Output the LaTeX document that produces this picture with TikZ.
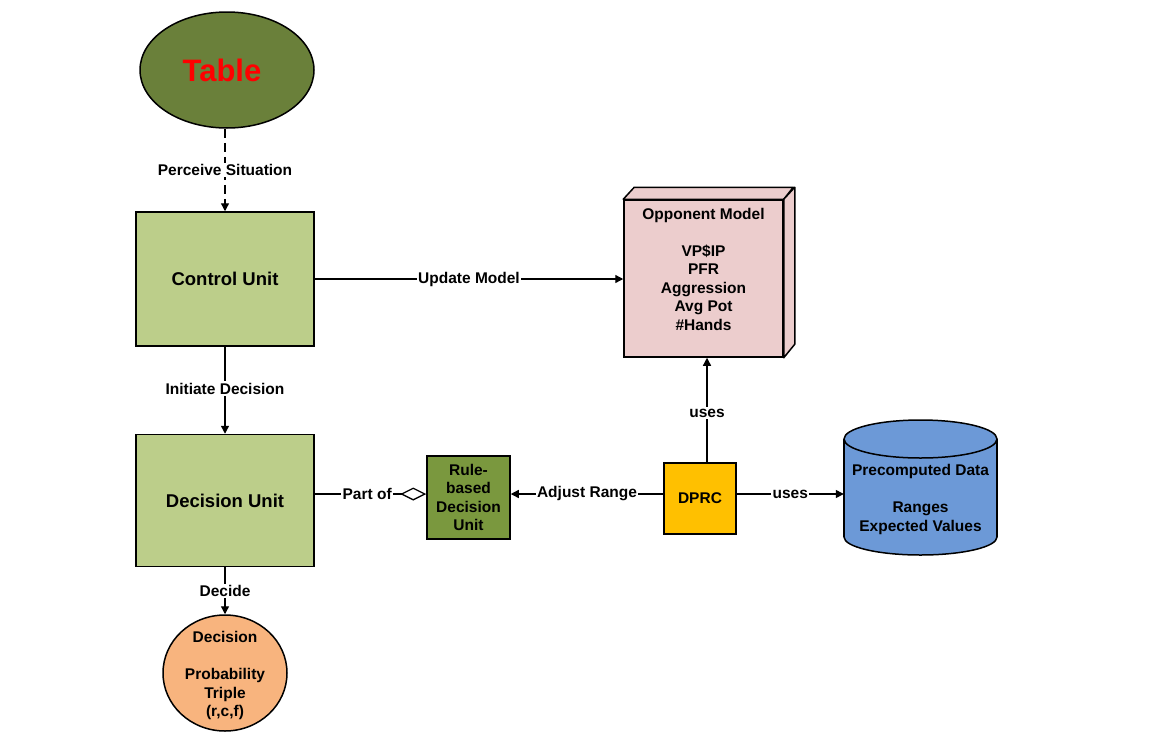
\documentclass[tikz,border=0pt]{standalone}
\usepackage{fontspec}
\setmainfont{Liberation Sans}
\usetikzlibrary{arrows.meta,shapes.geometric}
\definecolor{tablec}{RGB}{106,128,58}
\definecolor{unitc}{RGB}{188,206,138}
\definecolor{rulec}{RGB}{122,152,62}
\definecolor{oppc}{RGB}{236,205,205}
\definecolor{dprcc}{RGB}{255,192,0}
\definecolor{cylc}{RGB}{108,153,215}
\definecolor{decc}{RGB}{248,180,126}
\newcommand{\lblfont}{\fontsize{15.5}{18.5}\selectfont\bfseries}
\newcommand{\bigfont}{\fontsize{18.5}{22}\selectfont\bfseries}
\begin{document}
\begin{tikzpicture}[x=1pt,y=-1pt,
  shapebox/.style={draw=black, line width=1.5pt, inner sep=2pt, align=center},
  unitbox/.style={shapebox, fill=unitc, minimum width=178pt, font=\bigfont},
  lab/.style={fill=white, inner sep=1.5pt, font=\lblfont},
  txt/.style={align=center, inner sep=0pt, font=\lblfont},
  arr/.style={line width=1.3pt, -{Triangle[length=8pt,width=8pt]}}
]
\useasboundingbox (0,0) rectangle (1165,734);

% Table
\node[ellipse, draw=black, line width=1.5pt, fill=tablec, minimum width=174pt, minimum height=116pt, inner sep=0pt] (table) at (227,70) {};
\node[inner sep=0pt, text=red, font=\fontsize{31}{36}\selectfont\bfseries] (tablet) at (222,70) {Table};

% Units
\node[unitbox, minimum height=134pt] (control) at (225,279) {Control Unit};
\node[unitbox, minimum height=132pt] (decision) at (225,500.5) {Decision Unit};

% Decision circle
\node[ellipse, draw=black, line width=1.5pt, fill=decc, minimum width=124pt, minimum height=116pt, inner sep=0pt] (dec) at (225,673) {};
\node[txt] (dect) at (225,675.5) {Decision\\[18.5pt]Probability\\Triple\\(r,c,f)};

% Opponent model (3D box)
\node[shapebox, fill=oppc, minimum width=159pt, minimum height=157pt] (opp) at (703.5,278.5) {};
\filldraw[fill=oppc, line width=1.5pt, line join=round] (opp.north west) -- ++(11,-12) -- ++(159,0) -- (opp.north east) -- cycle;
\filldraw[fill=oppc, line width=1.5pt, line join=round] (opp.north east) -- ++(11,-12) -- ++(0,157) -- (opp.south east) -- cycle;
\node[txt] (oppt) at (703.5,269) {Opponent Model\\[18.5pt]VP\$IP\\PFR\\Aggression\\Avg Pot\\\#Hands};

% Rule-based unit and DPRC
\node[shapebox, fill=rulec, minimum width=83pt, minimum height=83pt, inner sep=0pt, font=\lblfont] (rule) at (468.5,497.5) {Rule-\\based\\Decision\\Unit};
\node[shapebox, fill=dprcc, minimum width=72pt, minimum height=71pt, font=\lblfont] (dprc) at (700,498.5) {DPRC};

% Cylinder
\fill[cylc] (844,439) rectangle (997,537);
\fill[cylc] (920.5,537) ellipse [x radius=76.5, y radius=18];
\begin{scope}
  \clip (830,537) rectangle (1010,570);
  \draw[line width=1.5pt] (920.5,537) ellipse [x radius=76.5, y radius=18];
\end{scope}
\draw[line width=1.5pt] (844,439) -- (844,537) (997,439) -- (997,537);
\filldraw[fill=cylc, line width=1.5pt] (920.5,439) ellipse [x radius=76.5, y radius=19];
\node[minimum width=153pt, minimum height=135pt, inner sep=0pt] (pre) at (920.5,487.5) {};
\node[txt] (pret) at (920.5,499.5) {Precomputed Data\\[18.5pt]Ranges\\Expected Values};

% Connectors
\coordinate (r) at (0,494);
\coordinate (u) at (707,0);
\draw[arr, dash pattern=on 9pt off 5pt] (control.north |- table.south) -- node[lab]{Perceive Situation} (control.north);
\draw[arr] (control.east) -- node[lab]{Update Model} (opp.west |- control.east);
\draw[arr] (control.south) -- node[lab, pos=0.48]{Initiate Decision} (decision.north);
\draw[arr] (decision.south) -- node[lab]{Decide} (dec.north);
\draw[arr] (dprc.north -| u) -- node[lab, pos=0.47]{uses} (opp.south -| u);
\draw[arr] (dprc.east |- r) -- node[lab]{uses} (pre.west |- r);
\draw[arr] (dprc.west |- r) -- node[lab]{Adjust Range} (rule.east |- r);
\draw[line width=1.3pt, -{Diamond[open, length=26pt, width=13pt]}] (decision.east |- r) -- node[lab, pos=0.47]{Part of} (rule.west |- r);
\end{tikzpicture}
\end{document}
